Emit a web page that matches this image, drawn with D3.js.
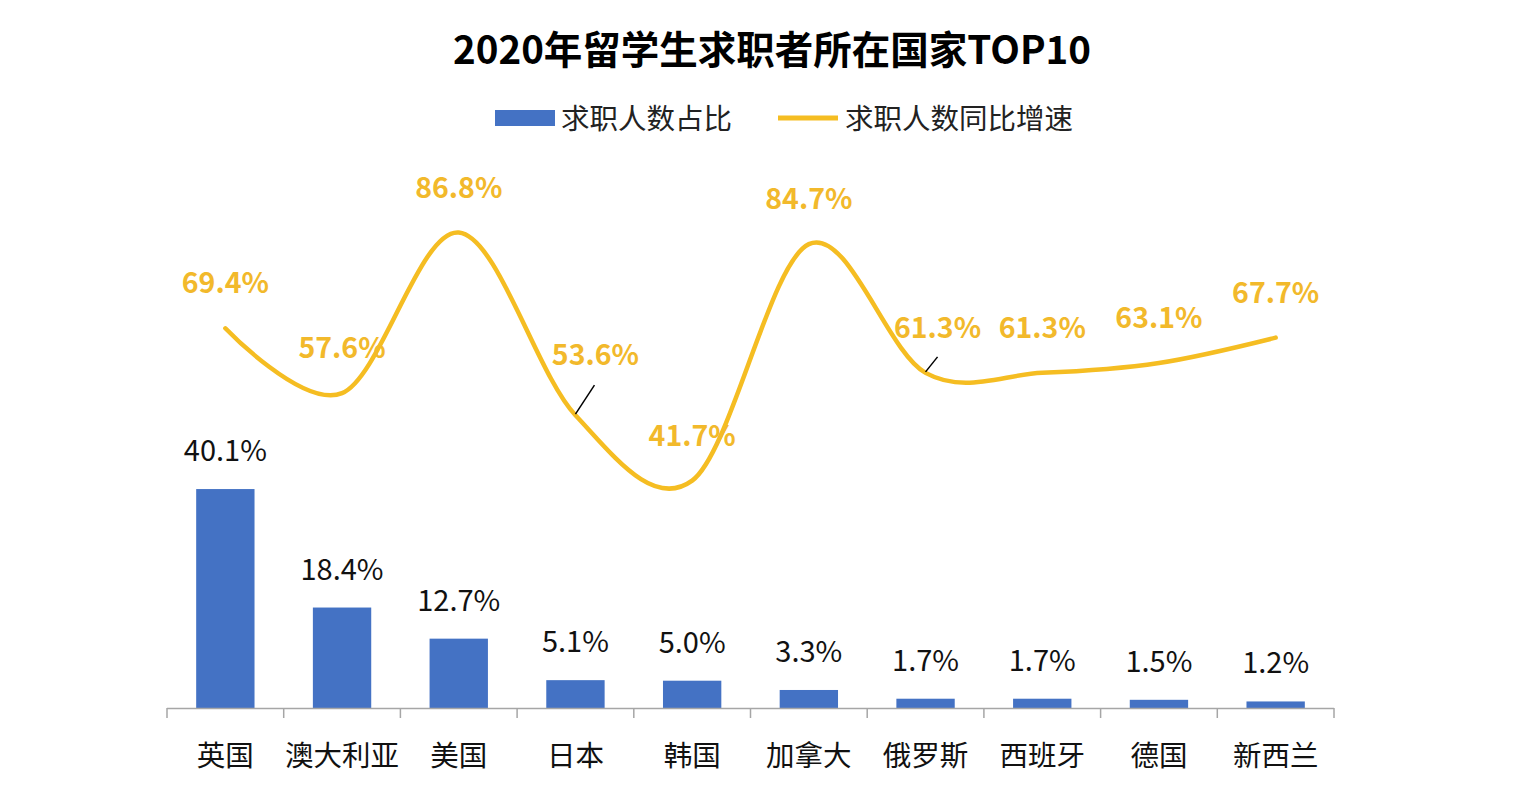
<!DOCTYPE html>
<html><head><meta charset="utf-8">
<script src="https://cdn.jsdelivr.net/npm/d3@7"></script>
<style>body{margin:0;background:#fff;} svg{display:block;}</style>
</head><body>
<svg id="c" width="1514" height="786"></svg>
<script>
const categories = ["英国","澳大利亚","美国","日本","韩国","加拿大","俄罗斯","西班牙","德国","新西兰"];
const shareValues = [40.1,18.4,12.7,5.1,5.0,3.3,1.7,1.7,1.5,1.2];
const growthValues = [69.4,57.6,86.8,53.6,41.7,84.7,61.3,61.3,63.1,67.7];
const seriesNames = ["求职人数占比","求职人数同比增速"];
const title = "2020年留学生求职者所在国家TOP10";

const font = "'Noto Sans CJK SC','Noto Sans',sans-serif";
const blue = "#4472C4", yellow = "#F5BD22", labelYellow = "#F2B92B";
const svg = d3.select("#c");

const x = d3.scaleBand().domain(categories).range([167,1334]).paddingInner(0.5).paddingOuter(0.25);
const band = d3.scaleBand().domain(categories).range([167,1334]);
const yBar = d3.scaleLinear().domain([0,100]).range([708,162]);
const yLine = d3.scaleLinear().domain([0,100]).range([710,160]);

// title
svg.append("text").attr("x",772).attr("y",64).attr("text-anchor","middle")
  .attr("font-family",font).attr("font-weight","bold").attr("font-size",38.5).attr("fill","#000").text(title);

// legend
svg.append("rect").attr("x",495).attr("y",110).attr("width",60).attr("height",16).attr("fill",blue);
svg.append("text").attr("x",561).attr("y",129).attr("font-family",font).attr("font-size",28.5).attr("fill","#222").text(seriesNames[0]);
svg.append("line").attr("x1",778).attr("x2",838).attr("y1",118).attr("y2",118).attr("stroke",yellow).attr("stroke-width",5);
svg.append("text").attr("x",845).attr("y",129).attr("font-family",font).attr("font-size",28.5).attr("fill","#222").text(seriesNames[1]);

// bars
svg.selectAll("rect.bar").data(shareValues).join("rect").attr("class","bar")
  .attr("x",(d,i)=>x(categories[i])).attr("width",x.bandwidth())
  .attr("y",d=>yBar(d)).attr("height",d=>yBar(0)-yBar(d)).attr("fill",blue);

// axis
const axis = svg.append("g");
axis.append("line").attr("x1",167).attr("x2",1334).attr("y1",708.5).attr("y2",708.5).attr("stroke","#A6A6A6").attr("stroke-width",1.5);
const bounds = categories.map(c=>band(c)).concat([band.range()[1]]);
axis.selectAll("line.tick").data(bounds).join("line").attr("class","tick")
  .attr("x1",d=>d).attr("x2",d=>d).attr("y1",708).attr("y2",718).attr("stroke","#A6A6A6").attr("stroke-width",1.5);
axis.selectAll("text").data(categories).join("text")
  .attr("x",d=>band(d)+band.bandwidth()/2).attr("y",766).attr("text-anchor","middle")
  .attr("font-family",font).attr("font-size",28.5).attr("fill","#111").text(d=>d);

// bar labels
svg.selectAll("text.blab").data(shareValues).join("text").attr("class","blab")
  .attr("x",(d,i)=>band(categories[i])+band.bandwidth()/2).attr("y",d=>yBar(d)-28)
  .attr("text-anchor","middle").attr("font-family",font).attr("font-size",29).attr("fill","#111")
  .text(d=>d.toFixed(1)+"%");

// line
const pts = growthValues.map((v,i)=>[band(categories[i])+band.bandwidth()/2, yLine(v)]);
svg.append("path").attr("d",d3.line().curve(d3.curveCardinal.tension(0))(pts))
  .attr("fill","none").attr("stroke",yellow).attr("stroke-width",4.5).attr("stroke-linecap","round");

// line labels (two are nudged with leader lines, as in the original)
const nudges = {3:{dx:20,dy:-15,lx:19,ly:-30}, 6:{dx:12,dy:0,lx:12,ly:-16}};
growthValues.forEach((v,i)=>{
  const [px,py] = pts[i];
  const n = nudges[i];
  const tx = px + (n?n.dx:0), ty = py - 35 + (n?n.dy:0);
  if (n) {
    svg.append("line").attr("x1",px).attr("y1",py-1).attr("x2",px+n.lx).attr("y2",py+n.ly)
      .attr("stroke","#000").attr("stroke-width",1.5);
  }
  svg.append("text").attr("x",tx).attr("y",ty).attr("text-anchor","middle")
    .attr("font-family",font).attr("font-weight","bold").attr("font-size",28.5).attr("fill",labelYellow)
    .text(v.toFixed(1)+"%");
});
</script>
</body></html>
